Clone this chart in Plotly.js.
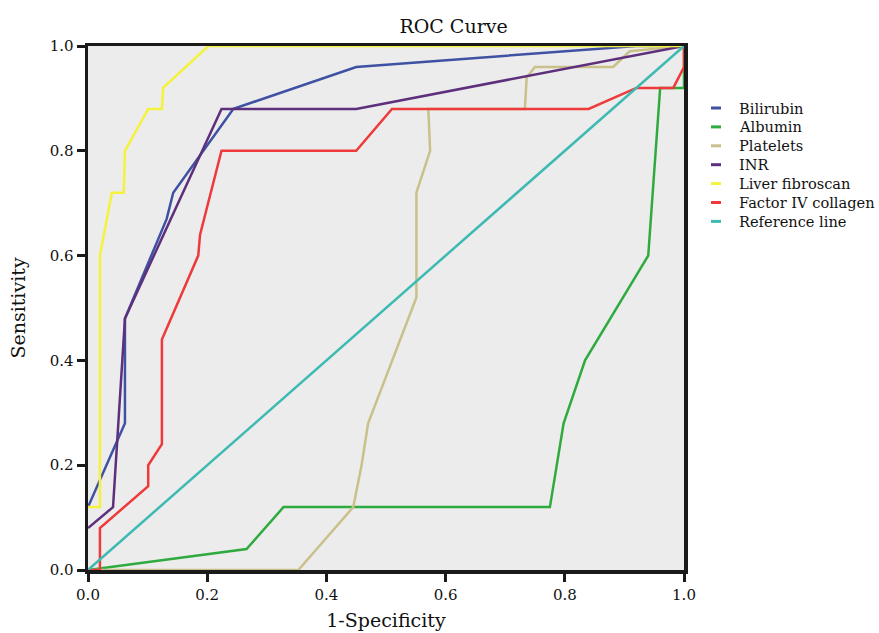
<!DOCTYPE html>
<html>
<head>
<meta charset="utf-8">
<script src="https://cdn.plot.ly/plotly-3.0.1.min.js"></script>
<style>html,body{margin:0;padding:0;background:#fff;}#chart{width:879px;height:633px;}</style>
</head>
<body>
<div id="chart"></div>
<script>
const seriesNames = ["Bilirubin", "Albumin", "Platelets", "INR", "Liver fibroscan", "Factor IV collagen", "Reference line"];

const bilirubinX = [0, 0.062, 0.062, 0.132, 0.143, 0.244, 0.45, 0.92, 1];
const bilirubinY = [0.12, 0.28, 0.48, 0.67, 0.72, 0.88, 0.96, 1, 1];

const albuminX = [0, 0.266, 0.328, 0.775, 0.798, 0.834, 0.94, 0.96, 1, 1];
const albuminY = [0, 0.04, 0.12, 0.12, 0.28, 0.40, 0.60, 0.92, 0.92, 1];

const plateletsX = [0, 0.353, 0.445, 0.459, 0.47, 0.49, 0.551, 0.551, 0.574, 0.571, 0.733, 0.736, 0.75, 0.881, 0.909, 1];
const plateletsY = [0, 0, 0.12, 0.20, 0.28, 0.34, 0.52, 0.72, 0.80, 0.88, 0.88, 0.94, 0.96, 0.96, 0.99, 1];

const inrX = [0, 0.042, 0.062, 0.224, 0.45, 1];
const inrY = [0.08, 0.12, 0.48, 0.88, 0.88, 1];

const fibroscanX = [0, 0.02, 0.02, 0.04, 0.06, 0.062, 0.101, 0.124, 0.126, 0.202, 1];
const fibroscanY = [0.12, 0.12, 0.60, 0.72, 0.72, 0.80, 0.88, 0.88, 0.92, 1, 1];

const collagenX = [0, 0.02, 0.02, 0.101, 0.101, 0.124, 0.124, 0.185, 0.188, 0.224, 0.45, 0.51, 0.84, 0.92, 0.982, 1, 1];
const collagenY = [0, 0, 0.08, 0.16, 0.20, 0.24, 0.44, 0.60, 0.64, 0.80, 0.80, 0.88, 0.88, 0.92, 0.92, 0.96, 1];

const referenceX = [0, 1];
const referenceY = [0, 1];

const tickVals = [0, 0.2, 0.4, 0.6, 0.8, 1.0];
const tickText = ["0.0", "0.2", "0.4", "0.6", "0.8", "1.0"];

const colors = ["#3f51a3", "#2eaa3e", "#c9c08a", "#5e2f7c", "#f4f23c", "#ee3a3a", "#3dbab2"];
const xs = [bilirubinX, albuminX, plateletsX, inrX, fibroscanX, collagenX, referenceX];
const ys = [bilirubinY, albuminY, plateletsY, inrY, fibroscanY, collagenY, referenceY];

const serif = "DejaVu Serif, serif";
const W = 879, H = 633, ML = 88, MR = 195, MT = 46, MB = 63;
const PW = W - ML - MR, PH = H - MT - MB;

const traces = [];
for (let i = 0; i < seriesNames.length; i++) {
  traces.push({
    x: xs[i], y: ys[i], type: "scatter", mode: "lines",
    name: seriesNames[i], showlegend: false,
    line: {color: colors[i], width: 2.5}, hoverinfo: "skip"
  });
}

// Legend drawn as key marks + text labels (pixel layout converted to paper coords)
const legendTop = 108, legendStep = 18.9, keyX0 = 711, keyX1 = 721, textX = 737;
const annotations = [], shapes = [];
for (let i = 0; i < seriesNames.length; i++) {
  const py = legendTop + i * legendStep;
  const yp = (H - MB - py) / PH;
  shapes.push({
    type: "line", xref: "paper", yref: "paper",
    x0: (keyX0 - ML) / PW, x1: (keyX1 - ML) / PW, y0: yp, y1: yp,
    line: {color: colors[i], width: 3}
  });
  annotations.push({
    xref: "paper", yref: "paper", x: (textX - ML) / PW, y: yp,
    xanchor: "left", yanchor: "middle", showarrow: false,
    text: seriesNames[i], font: {family: serif, size: 14.6, color: "#111"}
  });
}

const layout = {
  width: W, height: H,
  margin: {l: ML, r: MR, t: MT, b: MB},
  paper_bgcolor: "#ffffff",
  plot_bgcolor: "#ececec",
  showlegend: false,
  title: {text: "ROC Curve", font: {family: serif, size: 19, color: "#111"}, x: 0.516, xanchor: "center", y: 0.958, yanchor: "middle"},
  font: {family: serif, color: "#111"},
  xaxis: {
    range: [0, 1], tickvals: tickVals, ticktext: tickText,
    showgrid: false, zeroline: false,
    showline: true, mirror: true, linecolor: "#1a1a1a", linewidth: 3.5,
    ticks: "outside", ticklen: 8, tickwidth: 3, tickcolor: "#1a1a1a",
    tickfont: {family: serif, size: 15, color: "#111"},
    title: {text: "1-Specificity", font: {family: serif, size: 19, color: "#111"}, standoff: 12}
  },
  yaxis: {
    range: [0, 1], tickvals: tickVals, ticktext: tickText,
    showgrid: false, zeroline: false,
    showline: true, mirror: true, linecolor: "#1a1a1a", linewidth: 3.5,
    ticks: "outside", ticklen: 8, tickwidth: 3, tickcolor: "#1a1a1a",
    tickfont: {family: serif, size: 15, color: "#111"},
    title: {text: "Sensitivity", font: {family: serif, size: 19, color: "#111"}, standoff: 20}
  },
  annotations: annotations,
  shapes: shapes
};

Plotly.newPlot("chart", traces, layout, {displayModeBar: false, staticPlot: true});
</script>
</body>
</html>
